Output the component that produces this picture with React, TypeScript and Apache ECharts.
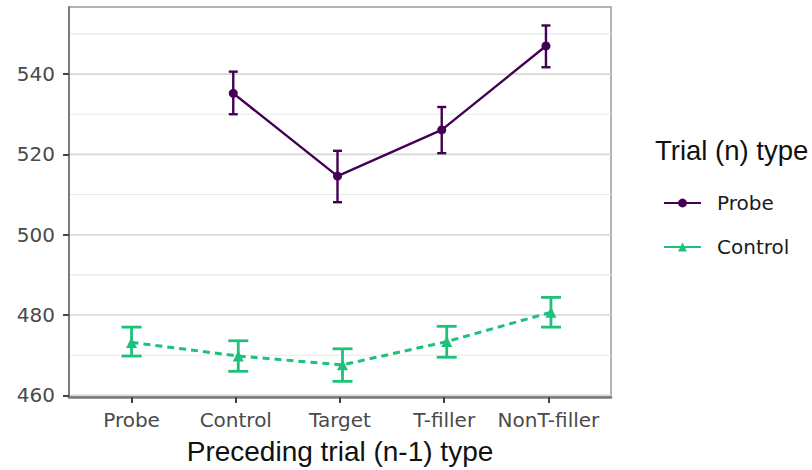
import React, { useEffect, useRef } from 'react';
import * as echarts from 'echarts';

const categories = ['Probe', 'Control', 'Target', 'T-filler', 'NonT-filler'];
const probeMean: (number | null)[] = [null, 535.2, 514.6, 526.1, 547.0];
const probeLow: (number | null)[] = [null, 530.0, 508.1, 520.3, 541.7];
const probeHigh: (number | null)[] = [null, 540.6, 520.9, 531.8, 552.1];
const controlMean: number[] = [473.2, 469.8, 467.6, 473.4, 480.7];
const controlLow: number[] = [469.8, 466.0, 463.5, 469.5, 477.0];
const controlHigh: number[] = [477.0, 473.6, 471.6, 477.2, 484.4];
const yTicks = [460, 480, 500, 520, 540];
const yMinor = [470, 490, 510, 530, 550];

const PURPLE = '#440154';
const GREEN = '#1dc27a';
const DODGE = 0.024;
const X_MIN = 0.4;
const X_MAX = 5.6;
const Y_MIN = 459.6;
const Y_MAX = 556.7;

function xPos(i: number, group: 'probe' | 'control') {
  const both = probeMean[i] != null && controlMean[i] != null;
  if (!both) return i + 1;
  return i + 1 + (group === 'probe' ? -DODGE : DODGE);
}

export default function App() {
  const ref = useRef<HTMLDivElement>(null);
  useEffect(() => {
    if (!ref.current) return;
    const chart = echarts.init(ref.current, undefined, { renderer: 'svg' });

    const probeData: number[][] = [];
    const probeErr: number[][] = [];
    probeMean.forEach((v, i) => {
      if (v != null) {
        probeData.push([xPos(i, 'probe'), v]);
        probeErr.push([xPos(i, 'probe'), probeLow[i] as number, probeHigh[i] as number]);
      }
    });
    const controlData = controlMean.map((v, i) => [xPos(i, 'control'), v]);
    const controlErr = controlMean.map((_, i) => [xPos(i, 'control'), controlLow[i], controlHigh[i]]);

    const gridData = [
      ...yMinor.map((v) => [X_MIN, v, 0]),
      ...yTicks.map((v) => [X_MIN, v, 1]),
    ];

    const errRender = (halfCap: number, color: string, width: number) => (params: any, api: any) => {
      const x = api.value(0);
      const lo = api.coord([x, api.value(1)]);
      const hi = api.coord([x, api.value(2)]);
      const style = { stroke: color, lineWidth: width };
      return {
        type: 'group',
        children: [
          { type: 'line', shape: { x1: lo[0], y1: lo[1], x2: hi[0], y2: hi[1] }, style },
          { type: 'line', shape: { x1: lo[0] - halfCap, y1: lo[1], x2: lo[0] + halfCap, y2: lo[1] }, style },
          { type: 'line', shape: { x1: hi[0] - halfCap, y1: hi[1], x2: hi[0] + halfCap, y2: hi[1] }, style },
        ],
      };
    };

    const option: any = {
      animation: false,
      backgroundColor: '#ffffff',
      grid: {
        left: 69,
        top: 7,
        right: 201,
        bottom: 72,
        show: true,
        borderColor: '#9a9a9a',
        borderWidth: 1.5,
        backgroundColor: 'transparent',
      },
      xAxis: {
        type: 'value',
        min: X_MIN,
        max: X_MAX,
        splitLine: { show: false },
        axisLine: { show: true, onZero: false, lineStyle: { color: '#7a7a7a', width: 2.5 } },
        axisTick: { show: true, length: 6, customValues: [1, 2, 3, 4, 5], lineStyle: { color: '#444', width: 2 } },
        axisLabel: {
          customValues: [1, 2, 3, 4, 5],
          formatter: (v: number) => categories[Math.round(v) - 1] ?? '',
          color: '#4a4a4a',
          fontFamily: 'DejaVu Sans',
          fontSize: 20,
          margin: 13,
        },
        name: 'Preceding trial (n-1) type',
        nameLocation: 'middle',
        nameGap: 40,
        nameTextStyle: { color: '#111', fontFamily: 'Liberation Sans', fontSize: 28 },
      },
      yAxis: {
        type: 'value',
        min: Y_MIN,
        max: Y_MAX,
        splitLine: { show: false },
        axisLine: { show: true, onZero: false, lineStyle: { color: '#7a7a7a', width: 2 } },
        axisTick: { show: true, length: 6, customValues: yTicks, lineStyle: { color: '#444', width: 2 } },
        axisLabel: {
          customValues: yTicks,
          color: '#4a4a4a',
          fontFamily: 'DejaVu Sans',
          fontSize: 20,
          margin: 14,
        },
      },
      legend: {
        orient: 'vertical',
        left: 658,
        top: 187,
        itemWidth: 37,
        itemHeight: 11,
        itemGap: 22,
        textStyle: { color: '#1a1a1a', fontFamily: 'DejaVu Sans', fontSize: 20, lineHeight: 22, padding: [0, 0, 0, 11] },
        data: [
          { name: 'Probe', lineStyle: { type: 'solid' } },
          { name: 'Control', lineStyle: { type: 'solid' } },
        ],
      },
      graphic: [
        {
          type: 'text',
          left: 655,
          top: 136,
          style: { text: 'Trial (n) type', fill: '#111', font: '27.5px "Liberation Sans"' },
        },
      ],
      series: [
        {
          type: 'custom',
          name: 'grid',
          silent: true,
          z: 0,
          data: gridData,
          renderItem: (params: any, api: any) => {
            const y = api.value(1);
            const major = api.value(2) === 1;
            const a = api.coord([X_MIN, y]);
            const b = api.coord([X_MAX, y]);
            return {
              type: 'line',
              shape: { x1: a[0], y1: a[1], x2: b[0], y2: b[1] },
              style: { stroke: major ? '#d6d6d6' : '#e8e8e8', lineWidth: major ? 1.6 : 1.1 },
            };
          },
        },
        {
          type: 'custom',
          name: 'probeErr',
          z: 3,
          data: probeErr,
          renderItem: errRender(4.5, PURPLE, 2.4),
        },
        {
          type: 'custom',
          name: 'controlErr',
          z: 3,
          data: controlErr,
          renderItem: errRender(10, GREEN, 2.8),
        },
        {
          type: 'line',
          name: 'Probe',
          z: 4,
          data: probeData,
          symbol: 'circle',
          symbolSize: 9,
          itemStyle: { color: PURPLE },
          lineStyle: { color: PURPLE, width: 2.4 },
        },
        {
          type: 'line',
          name: 'Control',
          z: 4,
          data: controlData,
          symbol: 'triangle',
          symbolSize: 11,
          itemStyle: { color: GREEN },
          lineStyle: { color: GREEN, width: 3, type: [7, 5] },
        },
      ],
    };
    chart.setOption(option);
    return () => chart.dispose();
  }, []);
  return <div ref={ref} style={{ position: 'absolute', left: 0, top: 0, width: 812, height: 470 }} />;
}
